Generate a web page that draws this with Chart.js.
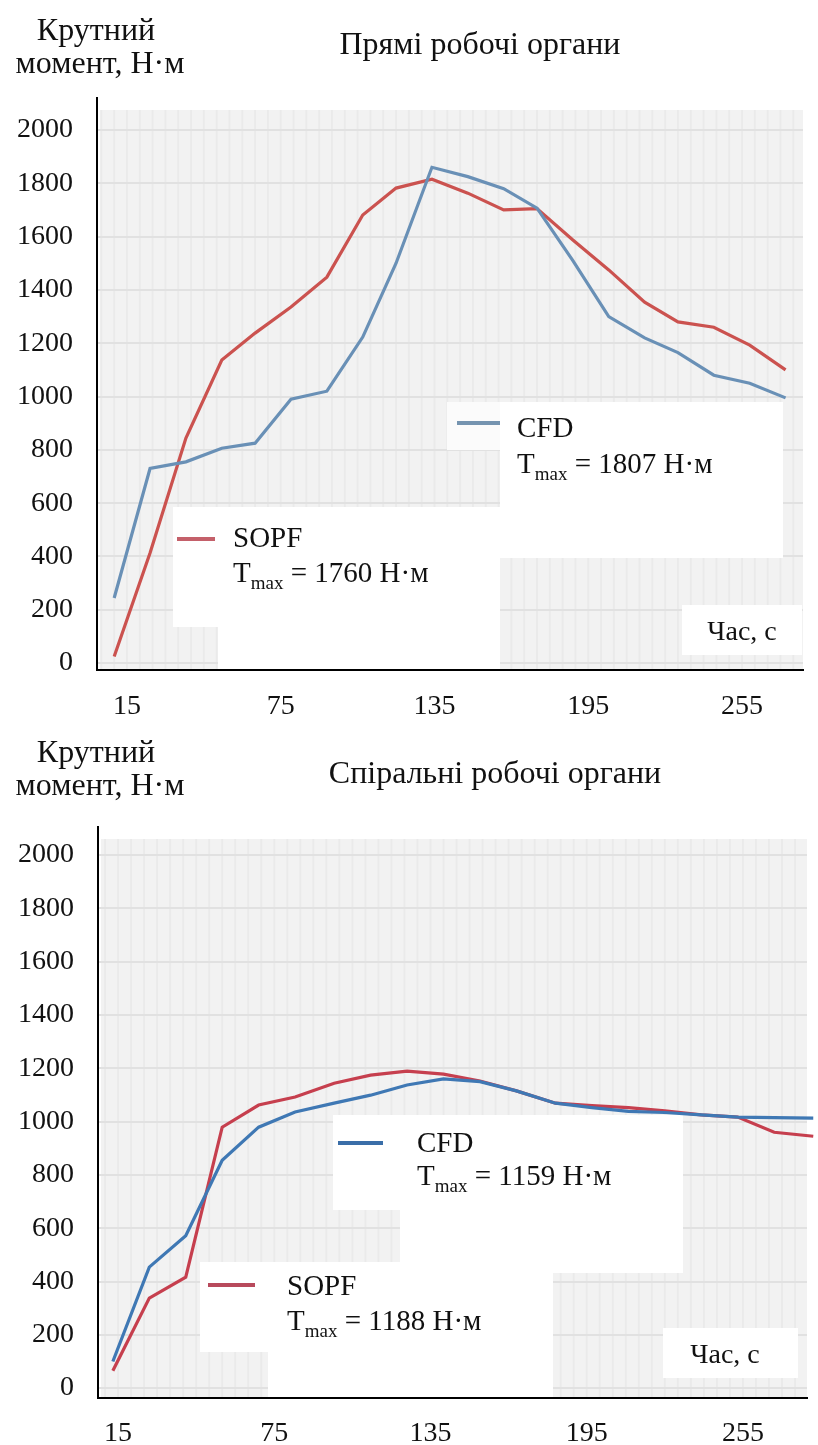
<!DOCTYPE html>
<html>
<head>
<meta charset="utf-8">
<script src="https://cdn.jsdelivr.net/npm/chart.js@4.4.1/dist/chart.umd.min.js"></script>
<style>
  html, body { margin: 0; padding: 0; background: #fff; }
  canvas { display: block; }
</style>
</head>
<body>
<canvas id="chartPr" width="818" height="725"></canvas>
<canvas id="chartSp" width="818" height="720"></canvas>
<script>
const FONT = '"Liberation Serif", "Times New Roman", serif';

// tick labels
const yTicks = [0, 200, 400, 600, 800, 1000, 1200, 1400, 1600, 1800, 2000];
const xTicks = [15, 75, 135, 195, 255];
const seriesNames = ['CFD', 'SOPF'];

// Прямі робочі органи
const timePr = [10, 24, 38, 52, 65, 79, 93, 107, 120, 134, 148, 162, 175, 189, 203, 217, 230, 244, 258, 272];
const cfdPr  = [244, 730, 755, 806, 825, 990, 1020, 1223, 1500, 1860, 1825, 1780, 1707, 1510, 1300, 1220, 1165, 1080, 1050, 995];
const sopfPr = [25, 413, 844, 1137, 1238, 1336, 1448, 1681, 1782, 1815, 1763, 1700, 1705, 1587, 1475, 1354, 1280, 1260, 1193, 1100];
const tmaxPr = [1807, 1760];

// Спіральні робочі органи
const timeSp = [13, 27, 41, 55, 69, 83, 98, 112, 126, 140, 154, 168, 183, 197, 211, 225, 239, 253, 267, 282];
const cfdSp  = [100, 454, 572, 855, 979, 1036, 1069, 1099, 1137, 1160, 1150, 1115, 1069, 1052, 1038, 1034, 1025, 1017, 1015, 1013];
const sopfSp = [65, 338, 416, 979, 1062, 1092, 1144, 1174, 1189, 1178, 1152, 1115, 1069, 1060, 1052, 1040, 1025, 1017, 960, 945];
const tmaxSp = [1159, 1188];

function pts(t, v) { return t.map((x, i) => ({x: x, y: v[i]})); }

// background, white boxes, legend and texts
const decor = {
  id: 'decor',
  beforeDraw(chart, args, o) {
    const {ctx, chartArea: ca} = chart;
    const xs = chart.scales.x;
    ctx.save();
    ctx.fillStyle = '#f2f2f2';
    ctx.fillRect(ca.left + 3, ca.top + 12, ca.right - ca.left - 3, ca.bottom - ca.top - 12);
    ctx.fillStyle = 'rgba(0,0,0,0.03)';
    for (let v = 5; v < xs.max; v += 5) {
      const px = xs.getPixelForValue(v);
      if (px < ca.left + 4) continue;
      ctx.fillRect(px - 1, ca.top + 12, 2, ca.bottom - ca.top - 12);
    }
    ctx.restore();
  },
  beforeDatasetsDraw(chart, args, o) {
    const ctx = chart.ctx;
    ctx.save();
    o.boxes.forEach(b => {
      ctx.fillStyle = b[4] || '#fff';
      ctx.fillRect(b[0], b[1], b[2] - b[0], b[3] - b[1]);
    });
    ctx.restore();
  },
  afterDatasetsDraw(chart, args, o) {
    const ctx = chart.ctx;
    ctx.save();
    ctx.fillStyle = '#111';
    ctx.textAlign = 'left';
    ctx.textBaseline = 'alphabetic';
    o.legend.forEach(l => {
      ctx.strokeStyle = l.color;
      ctx.lineWidth = 4;
      ctx.beginPath();
      ctx.moveTo(l.x0, l.ly);
      ctx.lineTo(l.x1, l.ly);
      ctx.stroke();
      ctx.font = '29px ' + FONT;
      ctx.fillText(l.name, l.tx, l.b1);
      let x = l.tx;
      ctx.fillText('T', x, l.b2);
      x += ctx.measureText('T').width;
      ctx.font = '19px ' + FONT;
      ctx.fillText('max', x, l.b2 + 7);
      x += ctx.measureText('max').width;
      ctx.font = '29px ' + FONT;
      ctx.fillText(' = ' + l.tmax + ' Н·м', x, l.b2);
    });
    ctx.font = '28px ' + FONT;
    ctx.textAlign = 'center';
    ctx.fillText('Час, с', o.timeLabel[0], o.timeLabel[1]);
    ctx.restore();
  },
  afterDraw(chart, args, o) {
    const ctx = chart.ctx;
    ctx.save();
    ctx.fillStyle = '#111';
    ctx.font = '32px ' + FONT;
    ctx.textAlign = 'center';
    ctx.textBaseline = 'alphabetic';
    ctx.fillText('Крутний', 96, o.head[0]);
    ctx.fillText('момент, Н·м', 100, o.head[1]);
    ctx.fillText(o.title, o.head[2], o.head[3]);
    ctx.restore();
  }
};

function makeChart(el, cfg) {
  return new Chart(el, {
    type: 'line',
    data: {
      datasets: [
        { label: seriesNames[0], data: pts(cfg.time, cfg.cfd), borderColor: cfg.colors[0], borderWidth: 3.2, pointRadius: 0, tension: 0, clip: 12 },
        { label: seriesNames[1], data: pts(cfg.time, cfg.sopf), borderColor: cfg.colors[1], borderWidth: 3.2, pointRadius: 0, tension: 0, clip: 12 }
      ]
    },
    options: {
      responsive: false,
      animation: false,
      layout: { padding: { left: 0, right: cfg.padRight, top: cfg.top, bottom: 0 } },
      scales: {
        x: {
          type: 'linear',
          min: cfg.xMin, max: cfg.xMax,
          afterBuildTicks: s => { s.ticks = xTicks.map(v => ({value: v})); },
          afterFit: s => { s.height = cfg.xHeight; },
          grid: { display: false },
          border: { display: true, color: '#000', width: 2 },
          ticks: { autoSkip: false, maxRotation: 0, padding: cfg.xPad, color: '#111', font: { family: FONT, size: 28 },
                   callback: v => String(v) }
        },
        y: {
          min: cfg.yMin, max: cfg.yMax,
          afterBuildTicks: s => { s.ticks = yTicks.map(v => ({value: v})); },
          afterFit: s => { s.width = cfg.left; },
          grid: { color: '#e1e1e1', lineWidth: 2, drawTicks: false },
          border: { display: true, color: '#000', width: 2 },
          ticks: { padding: 24, color: '#111', font: { family: FONT, size: 28 },
                   callback: v => String(v) }
        }
      },
      plugins: {
        legend: { display: false },
        tooltip: { enabled: false },
        decor: cfg.decor
      }
    },
    plugins: [decor]
  });
}

// ГРАФІК: прямі робочі органи
makeChart(document.getElementById('chartPr'), {
  time: timePr, cfd: cfdPr, sopf: sopfPr,
  colors: ['#6990b6', '#cb524f'],
  left: 97, padRight: 15, top: 98, xHeight: 55, xPad: 12,
  xMin: 3.3, xMax: 278.8, yMin: -26, yMax: 2120,
  decor: {
    title: 'Прямі робочі органи',
    head: [40, 73, 480, 54],
    boxes: [
      [447, 402, 500, 450, '#fbfbfb'],
      [500, 402, 783, 558],
      [173, 507, 218, 627],
      [218, 507, 500, 669],
      [682, 605, 802, 655]
    ],
    legend: [
      { name: seriesNames[0], tmax: tmaxPr[0], color: '#7594b0', x0: 457, x1: 500, ly: 423, tx: 517, b1: 437, b2: 473 },
      { name: seriesNames[1], tmax: tmaxPr[1], color: '#c4606a', x0: 177, x1: 215, ly: 539, tx: 233, b1: 547, b2: 582 }
    ],
    timeLabel: [742, 640]
  }
});

// ГРАФІК: спіральні робочі органи
makeChart(document.getElementById('chartSp'), {
  time: timeSp, cfd: cfdSp, sopf: sopfSp,
  colors: ['#3f78b4', '#c63f4e'],
  left: 98, padRight: 11, top: 102, xHeight: 47, xPad: 11,
  xMin: 7.3, xMax: 279.6, yMin: -37, yMax: 2105,
  decor: {
    title: 'Спіральні робочі органи',
    head: [37, 70, 495, 58],
    boxes: [
      [333, 390, 400, 485],
      [400, 390, 683, 548],
      [200, 537, 268, 627],
      [268, 537, 553, 672],
      [663, 603, 798, 653]
    ],
    legend: [
      { name: seriesNames[0], tmax: tmaxSp[0], color: '#3a6ea8', x0: 338, x1: 383, ly: 418, tx: 417, b1: 427, b2: 460 },
      { name: seriesNames[1], tmax: tmaxSp[1], color: '#b84a5c', x0: 208, x1: 255, ly: 560, tx: 287, b1: 570, b2: 605 }
    ],
    timeLabel: [725, 638]
  }
});
</script>
</body>
</html>
